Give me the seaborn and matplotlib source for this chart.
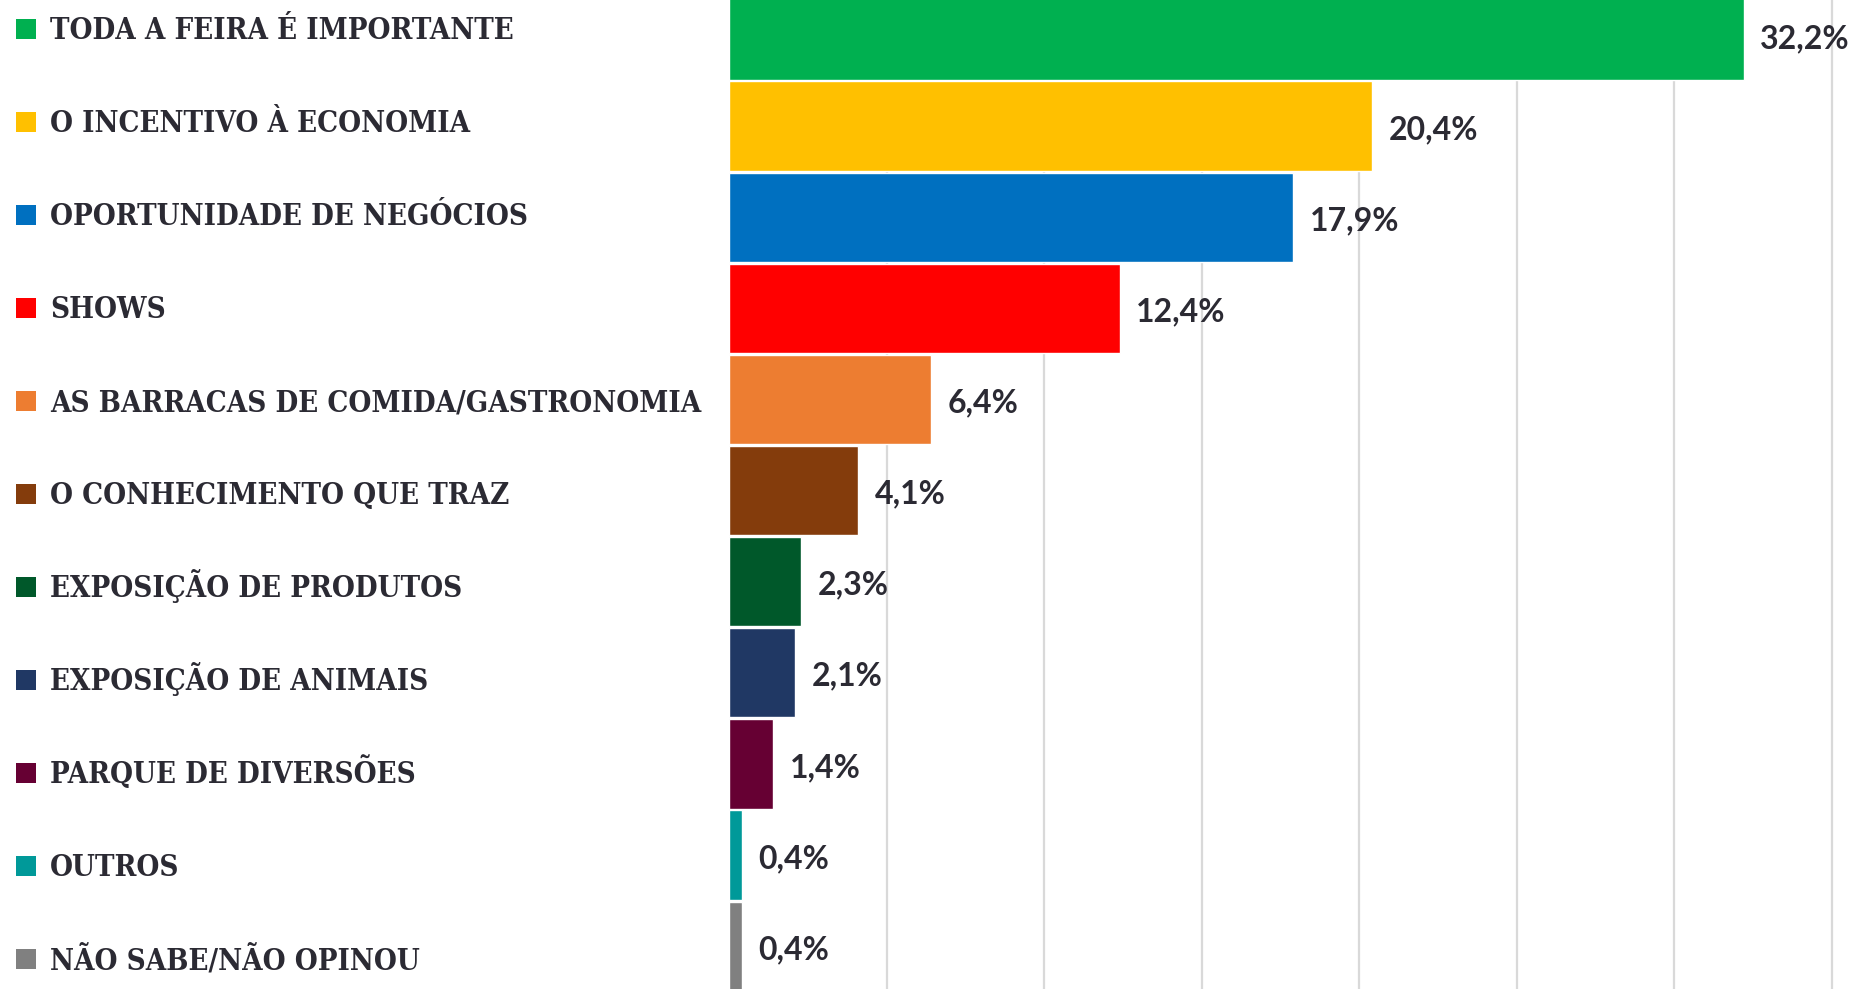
import seaborn as sns
import matplotlib.pyplot as plt
import pandas as pd
import numpy as np
from matplotlib.patches import Rectangle

categories = [
    "TODA A FEIRA É IMPORTANTE",
    "O INCENTIVO À ECONOMIA",
    "OPORTUNIDADE DE NEGÓCIOS",
    "SHOWS",
    "AS BARRACAS DE COMIDA/GASTRONOMIA",
    "O CONHECIMENTO QUE TRAZ",
    "EXPOSIÇÃO DE PRODUTOS",
    "EXPOSIÇÃO DE ANIMAIS",
    "PARQUE DE DIVERSÕES",
    "OUTROS",
    "NÃO SABE/NÃO OPINOU",
]
values = [32.2, 20.4, 17.9, 12.4, 6.4, 4.1, 2.3, 2.1, 1.4, 0.4, 0.4]
colors = ["#00B050", "#FFC000", "#0070C0", "#FF0000", "#ED7D31", "#843C0C",
          "#00582A", "#203864", "#660033", "#009999", "#808080"]
grid_ticks = [5, 10, 15, 20, 25, 30, 35]

df = pd.DataFrame({"cat": categories, "val": values})

sns.set_theme(style="white")
plt.rcParams['font.family'] = ['Lato', 'DejaVu Sans']

W, H = 1856, 989
fig = plt.figure(figsize=(W / 100, H / 100), dpi=100)
left = 729 / W
ax = fig.add_axes([left, 0, 1 - left, 1])

sns.barplot(data=df, x="val", y="cat", hue="cat", palette=colors, orient="h",
            width=0.98, saturation=1, legend=False, ax=ax)

# value labels with decimal comma
for i, v in enumerate(values):
    t = f"{v:.1f}".replace(".", ",") + "%"
    ax.annotate(t, (v, i), xytext=(12, -2.5), textcoords="offset points",
                ha="left", va="center", fontsize=23, fontweight="bold",
                color="#2b2a33")

ax.set_xlim(0, 35.77)
ax.set_ylim(10.47, -0.383)
ax.set_xticks(grid_ticks)
ax.set_xticklabels([])
ax.set_yticks([])
ax.set_xlabel("")
ax.set_ylabel("")
ax.xaxis.grid(True, color="#d9d9d9", lw=1.6)
ax.set_axisbelow(True)
ax.tick_params(length=0)
for s in ax.spines.values():
    s.set_visible(False)

# category list on the left, one row per bar
fs = 21.1
cap = 0.729 * fs * 100 / 72
for i, (name, c) in enumerate(zip(categories, colors)):
    yc = 28.4 + 93.0 * i
    fig.text(50 / W, 1 - (yc + cap / 2) / H, name, ha="left", va="baseline",
             fontsize=fs, fontweight="bold", color="#2b2a33",
             family=["DejaVu Serif", "DejaVu Sans"], stretch="condensed")
    fig.add_artist(Rectangle((16.3 / W, 1 - (yc + 10.5) / H), 19.5 / W, 19.5 / H,
                             transform=fig.transFigure, facecolor=c,
                             edgecolor="none"))

plt.savefig("out.png", dpi=100)
plt.close()
